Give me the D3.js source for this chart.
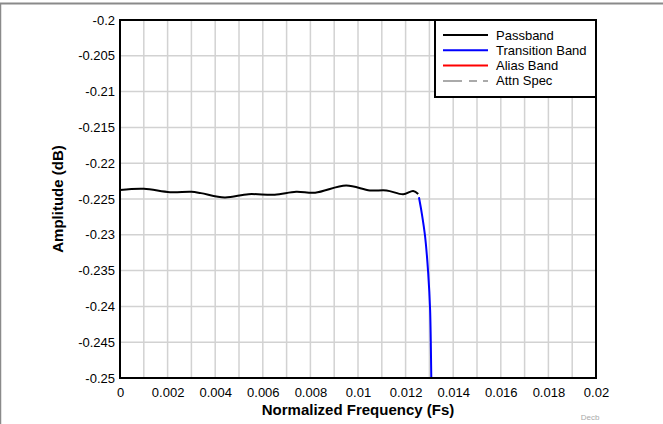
<!DOCTYPE html>
<html>
<head>
<meta http-equiv="Content-Type" content="text/html;charset=utf-8">
<script src="https://cdn.jsdelivr.net/npm/d3@7"></script>
<style>
  body { margin: 0; background: #fff; }
  text { font-family: "Liberation Sans", Arial, sans-serif; }
</style>
</head>
<body>
<div id="chart"></div>
<script>
// passband response
var passFreq = [0, 0.0010, 0.0021, 0.0030, 0.0034, 0.0044, 0.0054, 0.0065, 0.0074, 0.0082, 0.0095, 0.0105, 0.0112, 0.0119, 0.01232, 0.01253];
var passAmp  = [-0.22373, -0.22358, -0.22405, -0.22400, -0.22418, -0.22478, -0.22432, -0.22440, -0.22398, -0.22412, -0.22312, -0.22380, -0.22380, -0.22434, -0.22388, -0.22430];

// transition band
var transFreq = [0.01256, 0.01268, 0.01282, 0.01295, 0.01303, 0.01308, 0.01311];
var transAmp  = [-0.22476, -0.2270, -0.23026, -0.23538, -0.2405, -0.2500, -0.2560];

var xTicks = [0, 0.002, 0.004, 0.006, 0.008, 0.01, 0.012, 0.014, 0.016, 0.018, 0.02];
var yTicks = [-0.2, -0.205, -0.21, -0.215, -0.22, -0.225, -0.23, -0.235, -0.24, -0.245, -0.25];

var legendNames = ["Passband", "Transition Band", "Alias Band", "Attn Spec"];
var legendColors = ["#000000", "#0000ff", "#ff0000", "#aaaaaa"];

var W = 663, H = 424;
var pL = 120, pR = 596, pT = 20, pB = 378;

var svg = d3.select("#chart").append("svg")
    .attr("width", W)
    .attr("height", H);

// outer frame (top + left)
svg.append("line").attr("x1", 0).attr("x2", W).attr("y1", 3.5).attr("y2", 3.5)
    .attr("stroke", "#8a8a8a").attr("stroke-width", 2);
svg.append("line").attr("x1", 0.5).attr("x2", 0.5).attr("y1", 3).attr("y2", H)
    .attr("stroke", "#8a8a8a").attr("stroke-width", 1.5);

var x = d3.scaleLinear().domain([0, 0.02]).range([pL, pR]);
var y = d3.scaleLinear().domain([-0.25, -0.2]).range([pB, pT]);

// plain hyphen minus like the original
var fmt = function(d){ return String(+d.toFixed(6)); };

// grid
var grid = svg.append("g");
grid.selectAll(".vg")
    .data(d3.range(1, 20).map(function(i){ return i * 0.001; }))
    .enter().append("line")
    .attr("x1", function(d){ return x(d); })
    .attr("x2", function(d){ return x(d); })
    .attr("y1", pT).attr("y2", pB)
    .attr("stroke", "#d2d2d2").attr("stroke-width", 1.5);
grid.selectAll(".hg")
    .data(yTicks.slice(1, -1))
    .enter().append("line")
    .attr("y1", function(d){ return y(d); })
    .attr("y2", function(d){ return y(d); })
    .attr("x1", pL).attr("x2", pR)
    .attr("stroke", "#d2d2d2").attr("stroke-width", 1.5);

// axes labels
var xAxis = d3.axisBottom(x).tickValues(xTicks).tickSize(0).tickPadding(10).tickFormat(fmt);
var gx = svg.append("g").attr("transform", "translate(0," + pB + ")").call(xAxis);
gx.select(".domain").remove();
gx.selectAll("text").style("font-size", "13px").attr("fill", "#000")
    .style("font-family", "'Liberation Sans', Arial, sans-serif");

var yAxis = d3.axisLeft(y).tickValues(yTicks).tickSize(0).tickPadding(5).tickFormat(fmt);
var gy = svg.append("g").attr("transform", "translate(" + pL + ",0)").call(yAxis);
gy.select(".domain").remove();
gy.selectAll("text").style("font-size", "13px").attr("fill", "#000")
    .style("font-family", "'Liberation Sans', Arial, sans-serif");

// data lines
svg.append("clipPath").attr("id", "plotclip")
    .append("rect").attr("x", pL).attr("y", pT).attr("width", pR - pL).attr("height", pB - pT);

var line = d3.line()
    .x(function(d){ return x(d[0]); })
    .y(function(d){ return y(d[1]); })
    .curve(d3.curveCatmullRom);

svg.append("path")
    .datum(d3.zip(passFreq, passAmp))
    .attr("d", line)
    .attr("fill", "none").attr("stroke", "#000").attr("stroke-width", 2)
    .attr("clip-path", "url(#plotclip)");

svg.append("path")
    .datum(d3.zip(transFreq, transAmp))
    .attr("d", line)
    .attr("fill", "none").attr("stroke", "#0000ff").attr("stroke-width", 2)
    .attr("clip-path", "url(#plotclip)");

// plot border
svg.append("rect")
    .attr("x", pL).attr("y", pT).attr("width", pR - pL).attr("height", pB - pT)
    .attr("fill", "none").attr("stroke", "#000").attr("stroke-width", 2);

// axis titles
svg.append("text")
    .attr("x", (pL + pR) / 2).attr("y", 415)
    .attr("text-anchor", "middle")
    .style("font-size", "15px").style("font-weight", "bold")
    .text("Normalized Frequency (Fs)");

svg.append("text")
    .attr("transform", "translate(63," + ((pT + pB) / 2) + ") rotate(-90)")
    .attr("text-anchor", "middle")
    .style("font-size", "15px").style("font-weight", "bold")
    .text("Amplitude (dB)");

svg.append("text")
    .attr("x", 590).attr("y", 420)
    .attr("text-anchor", "middle")
    .style("font-size", "8px").attr("fill", "#aaa")
    .text("Decb");

// legend
var lg = svg.append("g");
lg.append("rect")
    .attr("x", 435).attr("y", pT).attr("width", pR - 435).attr("height", 77)
    .attr("fill", "#fff").attr("stroke", "#000").attr("stroke-width", 2);

var items = lg.selectAll(".item")
    .data(legendNames)
    .enter().append("g")
    .attr("transform", function(d, i){ return "translate(0," + (35 + i * 15.3) + ")"; });

items.append("line")
    .attr("x1", 443).attr("x2", 488).attr("y1", 0).attr("y2", 0)
    .attr("stroke", function(d, i){ return legendColors[i]; })
    .attr("stroke-width", 2)
    .attr("stroke-dasharray", function(d, i){ return i == 3 ? "19,7,8,6,5" : null; });

items.append("text")
    .attr("x", 496).attr("y", 4.5)
    .style("font-size", "13px")
    .text(function(d){ return d; });
</script>
</body>
</html>
